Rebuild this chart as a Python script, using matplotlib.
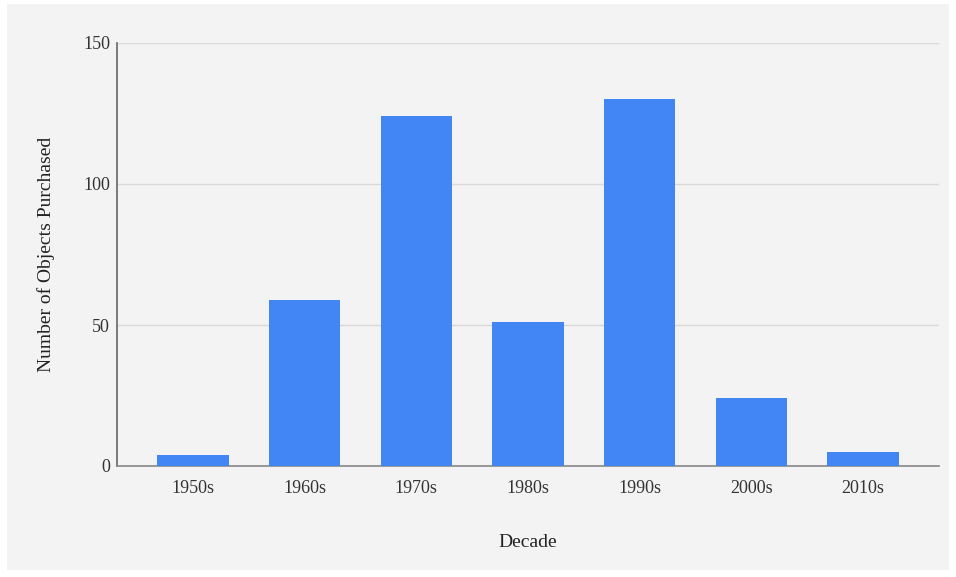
import matplotlib
matplotlib.use('Agg')
from matplotlib import pyplot
from matplotlib.patches import Rectangle

decades = ['1950s', '1960s', '1970s', '1980s', '1990s', '2000s', '2010s']
purchased = [4, 59, 124, 51, 130, 24, 5]
yticks = [0, 50, 100, 150]

pyplot.rcParams['font.family'] = ['Liberation Serif', 'DejaVu Serif']

fig = pyplot.figure(figsize=(9.56, 5.77), dpi=100)
fig.patch.set_facecolor('white')
# grey panel with a thin white frame round it
fig.patches.append(Rectangle((7/956, 7/577), 942/956, 566/577,
                             transform=fig.transFigure, facecolor='#f3f3f3',
                             edgecolor='none', zorder=-5))

ax = fig.add_axes([117/956, 1 - 466/577, 822/956, 423/577])
ax.set_facecolor('#f3f3f3')
x = range(len(decades))
ax.bar(x, purchased, width=0.64, color='#4285f4', zorder=3)

ax.set_xlim(-0.68, len(decades) - 1 + 0.68)
ax.set_ylim(0, 150)
ax.set_yticks(yticks)
ax.set_xticks(list(x))
ax.set_xticklabels(decades)
ax.tick_params(axis='both', length=0, labelsize=13, colors='#333333')
ax.tick_params(axis='x', pad=10)
ax.tick_params(axis='y', pad=5)
ax.grid(axis='y', color='#d9d9d9', linewidth=1, zorder=0)

for s in ['top', 'right']:
    ax.spines[s].set_visible(False)
ax.spines['left'].set_color('#666666')
ax.spines['bottom'].set_color('#888888')
ax.spines['left'].set_linewidth(1.2)
ax.spines['bottom'].set_linewidth(1.2)

ax.set_xlabel('Decade', fontsize=14, color='#222222', labelpad=27)
ax.set_ylabel('Number of Objects Purchased', fontsize=14, color='#222222', labelpad=20)

pyplot.savefig('out.png', dpi=100, facecolor=fig.get_facecolor())
